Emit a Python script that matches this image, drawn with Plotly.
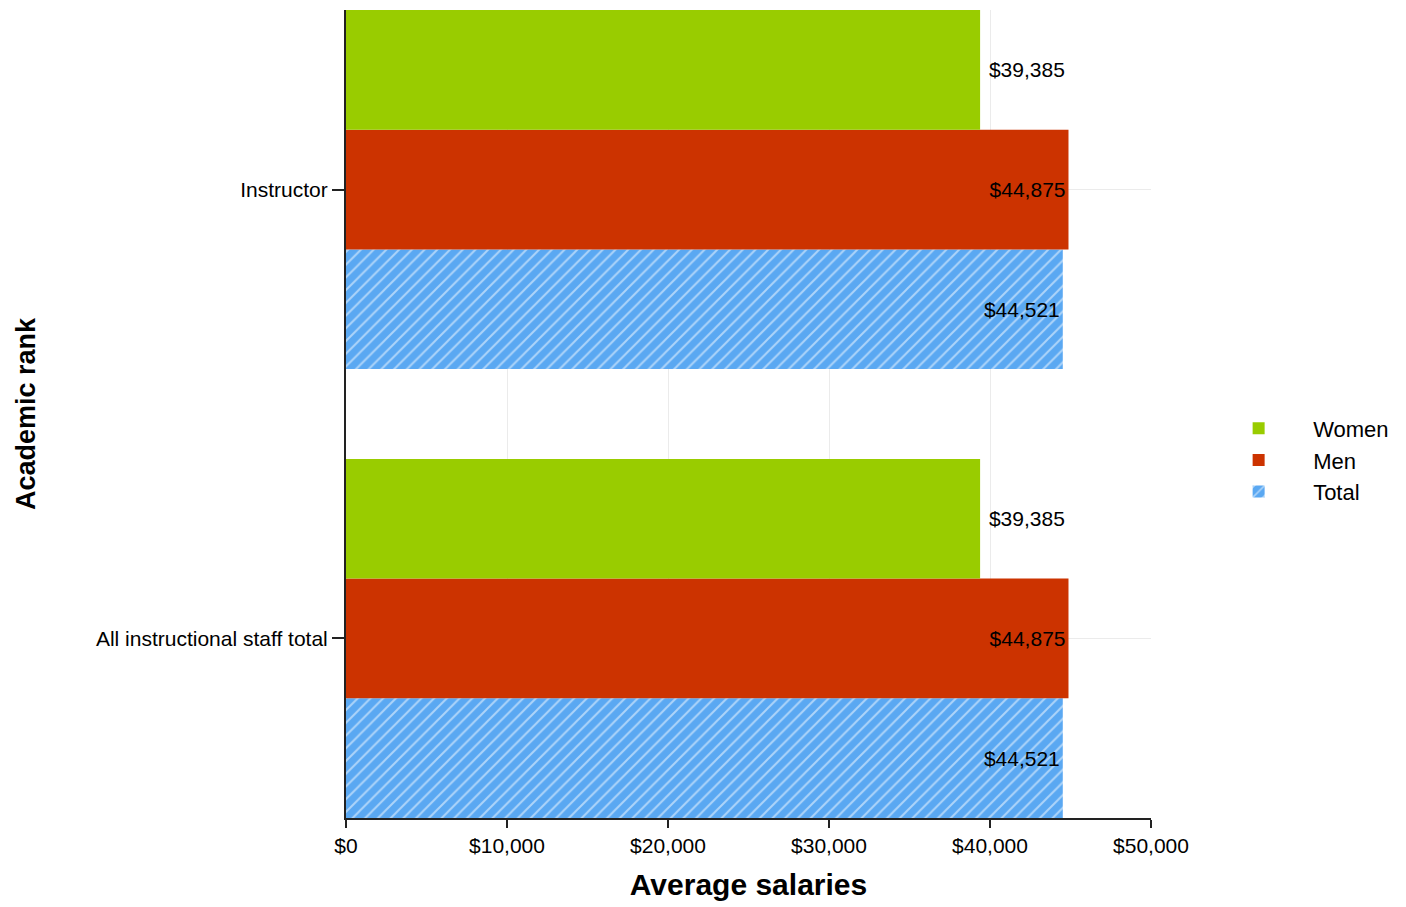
import plotly.graph_objects as go

categories = ["All instructional staff total", "Instructor"]
women = [39385, 39385]
men = [44875, 44875]
total = [44521, 44521]
tick_vals = [0, 10000, 20000, 30000, 40000, 50000]
tick_text = ["$0", "$10,000", "$20,000", "$30,000", "$40,000", "$50,000"]

FONT = "Liberation Sans, Arial, sans-serif"
LBL = 21

def fmt(v):
    return "${:,}".format(v)

fig = go.Figure()
fig.add_trace(go.Bar(
    name="Total", y=categories, x=total, orientation="h",
    marker=dict(color="#5aa8f2", line=dict(width=0),
                pattern=dict(shape="/", fgcolor="white", bgcolor="#5aa8f2", size=9, solidity=0.22)),
    text=[fmt(v) for v in total], textposition="inside", insidetextanchor="end",
    insidetextfont=dict(color="black", size=LBL, family=FONT),
))
fig.add_trace(go.Bar(
    name="Men", y=categories, x=men, orientation="h",
    marker=dict(color="#cc3300", line=dict(width=0)),
    text=[fmt(v) for v in men], textposition="inside", insidetextanchor="end",
    insidetextfont=dict(color="black", size=LBL, family=FONT),
))
fig.add_trace(go.Bar(
    name="Women", y=categories, x=women, orientation="h",
    marker=dict(color="#99cc00", line=dict(width=0)),
    text=["\u00a0" + fmt(v) for v in women], textposition="outside",
    outsidetextfont=dict(color="black", size=LBL, family=FONT),
    cliponaxis=False,
))

fig.update_layout(
    width=1406, height=907,
    margin=dict(l=338, r=263, t=2, b=97),
    paper_bgcolor="white", plot_bgcolor="white",
    barmode="group", bargap=0.2, bargroupgap=0,
    font=dict(family=FONT, size=LBL, color="black"),
    showlegend=True,
    legend=dict(traceorder="reversed", x=1.066, y=0.443, xanchor="left", yanchor="middle",
                font=dict(size=22, family=FONT), itemwidth=99, tracegroupgap=0),
)
fig.update_xaxes(
    range=[0, 50000], tickvals=tick_vals, ticktext=tick_text,
    showgrid=True, gridcolor="#ebebeb", gridwidth=1,
    showline=True, linecolor="#222222", linewidth=2,
    ticks="outside", ticklen=8, tickcolor="#222222", tickwidth=2,
    zeroline=False,
    title=dict(text="<b>Average salaries</b>", font=dict(size=30, family=FONT), standoff=18),
    tickfont=dict(size=LBL, family=FONT),
)
fig.update_yaxes(
    type="category", categoryorder="array", categoryarray=categories,
    range=[-0.4, 1.4],
    showgrid=True, gridcolor="#ebebeb", gridwidth=1,
    showline=True, linecolor="#222222", linewidth=2,
    ticks="outside", ticklen=12, tickcolor="#222222", tickwidth=2,
    zeroline=False,
    title=dict(text="<b>Academic rank</b>", font=dict(size=27, family=FONT), standoff=52),
    tickfont=dict(size=LBL, family=FONT),
)

fig.write_html("out.html")
